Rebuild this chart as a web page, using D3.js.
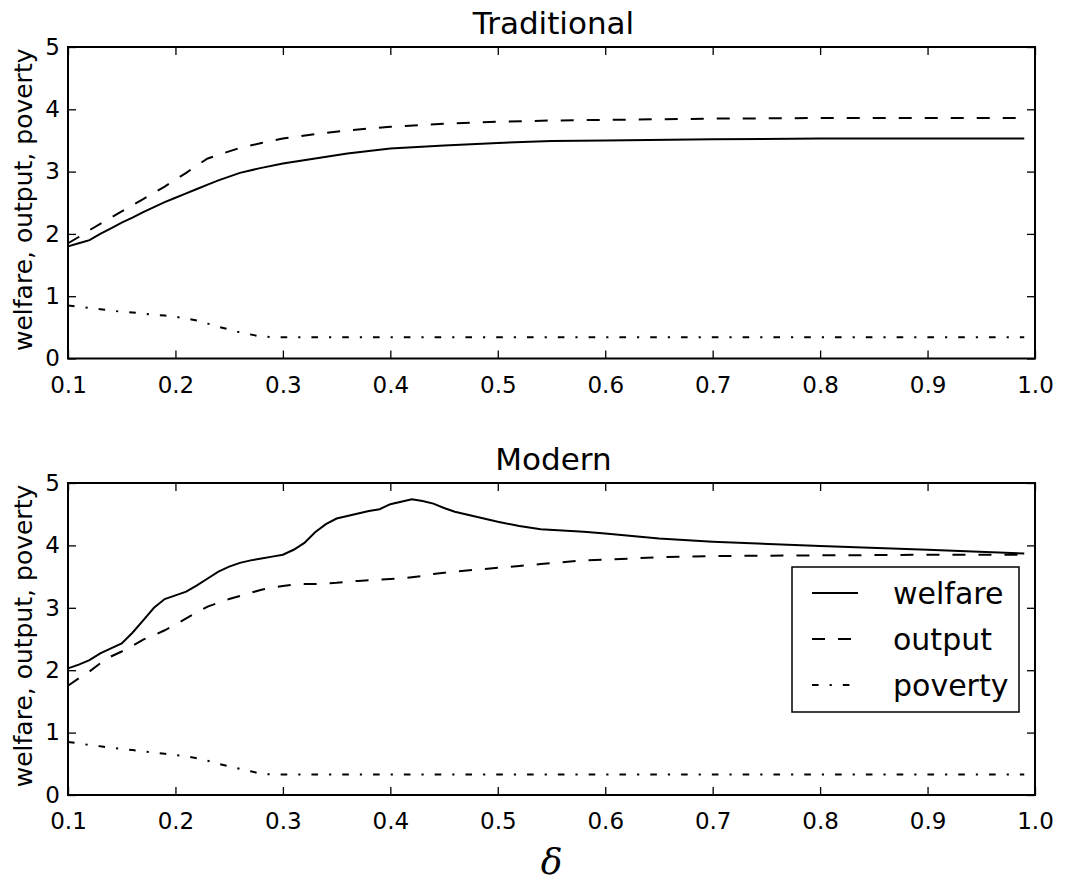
<!DOCTYPE html>
<html>
<head>
<meta charset="utf-8">
<script src="https://cdn.jsdelivr.net/npm/d3@7"></script>
<style>
  body { margin: 0; background: #fff; }
  text { font-family: "DejaVu Sans", sans-serif; fill: #000; }
</style>
</head>
<body>
<div id="chart"></div>
<script>
// --- data ---
const tradDelta   = [0.10,0.11,0.12,0.13,0.14,0.15,0.16,0.17,0.18,0.19,0.20,0.21,0.22,0.23,0.24,0.26,0.28,0.30,0.33,0.36,0.40,0.45,0.50,0.55,0.60,0.70,0.80,0.90,0.99];
const tradWelfare = [1.80,1.85,1.90,2.00,2.09,2.18,2.26,2.35,2.43,2.51,2.58,2.65,2.72,2.79,2.86,2.98,3.06,3.13,3.21,3.29,3.37,3.42,3.46,3.49,3.50,3.52,3.53,3.53,3.53];
const tradOutput  = [1.85,1.95,2.06,2.16,2.26,2.36,2.46,2.56,2.66,2.76,2.87,2.98,3.10,3.21,3.27,3.38,3.46,3.53,3.60,3.66,3.72,3.77,3.80,3.82,3.83,3.85,3.86,3.86,3.86];
const tradPoverty = [0.85,0.83,0.81,0.79,0.77,0.75,0.74,0.72,0.70,0.69,0.67,0.64,0.61,0.56,0.51,0.42,0.35,0.34,0.34,0.34,0.34,0.34,0.34,0.34,0.34,0.34,0.34,0.34,0.34];

const modDelta   = [0.10,0.11,0.12,0.13,0.14,0.15,0.16,0.17,0.18,0.19,0.20,0.21,0.22,0.23,0.24,0.25,0.26,0.27,0.28,0.29,0.30,0.31,0.32,0.33,0.34,0.35,0.36,0.37,0.38,0.39,0.40,0.41,0.42,0.43,0.44,0.45,0.46,0.48,0.50,0.52,0.54,0.56,0.58,0.60,0.65,0.70,0.80,0.90,0.99];
const modWelfare = [2.03,2.09,2.16,2.27,2.35,2.43,2.60,2.80,3.00,3.14,3.20,3.26,3.36,3.47,3.58,3.66,3.72,3.76,3.79,3.82,3.85,3.93,4.04,4.21,4.34,4.43,4.47,4.51,4.55,4.58,4.66,4.70,4.74,4.71,4.67,4.60,4.54,4.46,4.38,4.31,4.26,4.24,4.22,4.19,4.11,4.06,3.99,3.93,3.87];
const modOutput  = [1.75,1.87,1.98,2.11,2.22,2.30,2.39,2.49,2.56,2.64,2.73,2.83,2.93,3.02,3.08,3.14,3.19,3.24,3.29,3.32,3.35,3.37,3.38,3.38,3.39,3.40,3.42,3.43,3.44,3.45,3.46,3.47,3.49,3.51,3.54,3.56,3.58,3.61,3.64,3.67,3.70,3.73,3.76,3.77,3.81,3.83,3.84,3.85,3.85];
const modPoverty = [0.85,0.83,0.80,0.78,0.76,0.74,0.72,0.70,0.68,0.66,0.64,0.62,0.59,0.55,0.50,0.46,0.42,0.38,0.34,0.33,0.33,0.33,0.33,0.33,0.33,0.33,0.33,0.33,0.33,0.33,0.33,0.33,0.33,0.33,0.33,0.33,0.33,0.33,0.33,0.33,0.33,0.33,0.33,0.33,0.33,0.33,0.33,0.33,0.33];

const xTicks = [0.1,0.2,0.3,0.4,0.5,0.6,0.7,0.8,0.9,1.0];
const yTicks = [0,1,2,3,4,5];
const seriesNames = ["welfare", "output", "poverty"];
const dashes = { welfare: null, output: "13,13", poverty: "6.6,11,2.2,11" };

// --- layout ---
const W = 1065, H = 884;
const left = 68, right = 1035;
const panels = [
  { title: "Traditional", top: 47,  bottom: 358.5, delta: tradDelta, vals: [tradWelfare, tradOutput, tradPoverty], legend: false },
  { title: "Modern",      top: 483, bottom: 795,   delta: modDelta,  vals: [modWelfare, modOutput, modPoverty],   legend: true }
];

const svg = d3.select("#chart").append("svg")
  .attr("width", W).attr("height", H);

const x = d3.scaleLinear().domain([0.1, 1.0]).range([left, right]);

panels.forEach(p => {
  const y = d3.scaleLinear().domain([0, 5]).range([p.bottom, p.top]);
  const g = svg.append("g");

  // lines
  p.vals.forEach((vals, i) => {
    const name = seriesNames[i];
    const pts = p.delta.map((d, j) => [d, vals[j]]);
    g.append("path")
      .datum(pts)
      .attr("fill", "none")
      .attr("stroke", "#000")
      .attr("stroke-width", 2)
      .attr("stroke-dasharray", dashes[name])
      .attr("d", d3.line().x(d => x(d[0])).y(d => y(d[1])));
  });

  // axes, ticks inward on all sides
  g.append("g").attr("transform", `translate(0,${p.bottom})`)
    .call(d3.axisBottom(x).tickValues(xTicks).tickFormat(d3.format(".1f")).tickSizeInner(-8).tickSizeOuter(0).tickPadding(18));
  g.append("g").attr("transform", `translate(0,${p.top})`)
    .call(d3.axisTop(x).tickValues(xTicks).tickFormat("").tickSizeInner(-8).tickSizeOuter(0));
  g.append("g").attr("transform", `translate(${left},0)`)
    .call(d3.axisLeft(y).tickValues(yTicks).tickFormat(d3.format("d")).tickSizeInner(-8).tickSizeOuter(0).tickPadding(8));
  g.append("g").attr("transform", `translate(${right},0)`)
    .call(d3.axisRight(y).tickValues(yTicks).tickFormat("").tickSizeInner(-8).tickSizeOuter(0));

  g.selectAll(".domain").remove();
  g.selectAll(".tick line").attr("stroke", "#000").attr("stroke-width", 1.3);
  g.selectAll(".tick text").style("font-size", "23px").style("font-family", "DejaVu Sans");

  // frame
  g.append("rect")
    .attr("x", left).attr("y", p.top)
    .attr("width", right - left).attr("height", p.bottom - p.top)
    .attr("fill", "none").attr("stroke", "#000").attr("stroke-width", 2);

  // title
  g.append("text")
    .attr("x", (left + right) / 2 + 2).attr("y", p.top - 13)
    .attr("text-anchor", "middle")
    .style("font-size", "31px")
    .text(p.title);

  // y label
  g.append("text")
    .attr("transform", `translate(32,${(p.top + p.bottom) / 2 - 3}) rotate(-90)`)
    .attr("text-anchor", "middle")
    .style("font-size", "25px")
    .text("welfare, output, poverty");

  if (p.legend) {
    const lg = g.append("g");
    lg.append("rect")
      .attr("x", 792).attr("y", 567).attr("width", 227).attr("height", 145)
      .attr("fill", "#fff").attr("stroke", "#000").attr("stroke-width", 1.5);
    seriesNames.forEach((name, i) => {
      const cy = 593 + i * 46;
      lg.append("line")
        .attr("x1", 812).attr("x2", 858).attr("y1", cy).attr("y2", cy)
        .attr("stroke", "#000").attr("stroke-width", 2)
        .attr("stroke-dasharray", dashes[name]);
      lg.append("text")
        .attr("x", 893).attr("y", cy).attr("dy", "0.35em")
        .style("font-size", "30px")
        .text(name);
    });
  }
});

// x label
svg.append("text")
  .attr("x", (left + right) / 2).attr("y", 874)
  .attr("text-anchor", "middle")
  .style("font-family", "'DejaVu Serif', serif")
  .style("font-style", "italic")
  .style("font-size", "36px")
  .text("δ");
</script>
</body>
</html>
